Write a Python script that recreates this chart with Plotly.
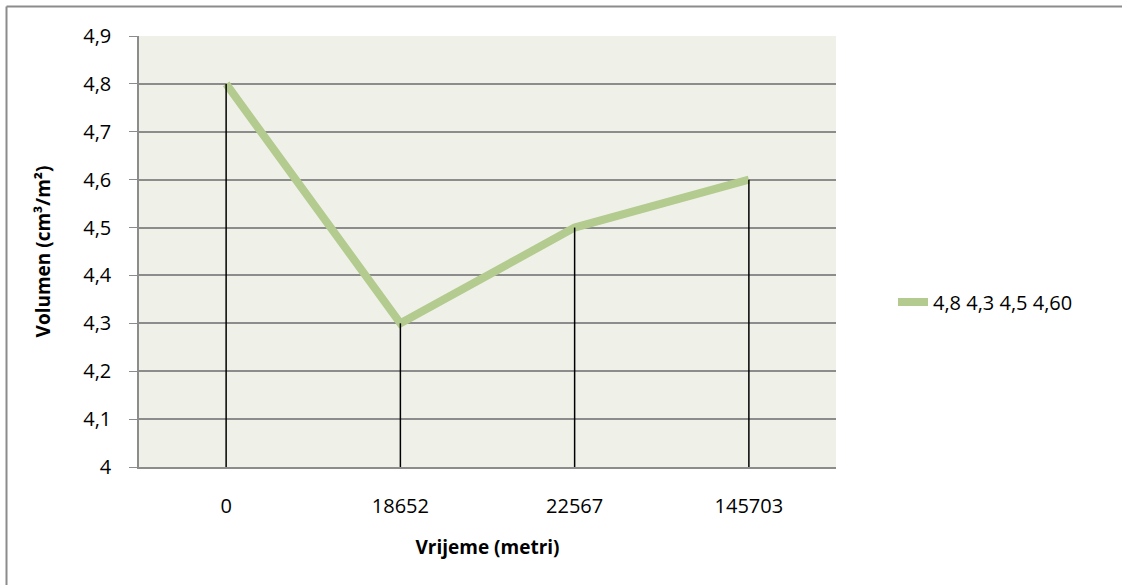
import plotly.graph_objects as go

distances = ['0', '18652', '22567', '145703']
volumes = [4.8, 4.3, 4.5, 4.6]
series_name = '4,8 4,3 4,5 4,60'
y_ticks = [4.0, 4.1, 4.2, 4.3, 4.4, 4.5, 4.6, 4.7, 4.8, 4.9]

W, H = 1122, 585
L, R, T, B = 139, 286, 36, 118
pw, ph = W - L - R, H - T - B

fig = go.Figure()
fig.add_trace(go.Scatter(x=distances, y=volumes, mode='lines', name=series_name,
                         line=dict(color='#B3CB8F', width=8)))
# drop lines from each point to the axis
for d, v in zip(distances, volumes):
    fig.add_trace(go.Scatter(x=[d, d], y=[y_ticks[0], v], mode='lines', showlegend=False,
                             hoverinfo='skip', line=dict(color='black', width=1.5)))

# outer frame of the chart (left and top edges only are visible)
bx0, by1 = (6.5 - L) / pw, (467 - 6.5) / ph
frame = dict(color='#8C8C8C', width=2)
shapes = [
    dict(type='line', xref='paper', yref='paper', x0=bx0, x1=bx0, y0=(467 - 700) / ph, y1=by1, line=frame),
    dict(type='line', xref='paper', yref='paper', x0=bx0, x1=(1300 - L) / pw, y0=by1, y1=by1, line=frame),
]

font = "Open Sans, Noto Sans, sans-serif"
fig.update_layout(
    width=W, height=H, separators=', ',
    margin=dict(l=L, r=R, t=T, b=B),
    paper_bgcolor='white', plot_bgcolor='#EFF1E8',
    font=dict(family=font, size=20, color='black'),
    legend=dict(x=(893 - L) / pw, y=(467 - 302) / ph, xanchor='left', yanchor='middle',
                font=dict(size=20), bgcolor='rgba(0,0,0,0)'),
    shapes=shapes,
)
fig.update_xaxes(type='category', range=[-0.5, len(distances) - 0.5],
                 showgrid=False, zeroline=False,
                 showline=True, linecolor='#8C8C8C', linewidth=1.5,
                 ticks='', ticklabelstandoff=20,
                 title=dict(text='<b>Vrijeme (metri)</b>', standoff=23, font=dict(size=19)))
fig.update_yaxes(range=[4, 4.9], tickvals=y_ticks, showgrid=True, gridcolor='#8C8C8C',
                 gridwidth=1.5, zeroline=False, showline=True, linecolor='#8C8C8C',
                 linewidth=1.5, ticks='outside', ticklen=8, tickcolor='#8C8C8C',
                 ticklabelstandoff=14,
                 title=dict(text='<b>Volumen (cm³/m²)</b>', standoff=28, font=dict(size=19)))

fig.write_html("out.html", config={'displayModeBar': False},
               post_script="document.body.style.margin='0'; document.body.style.overflow='hidden';")
